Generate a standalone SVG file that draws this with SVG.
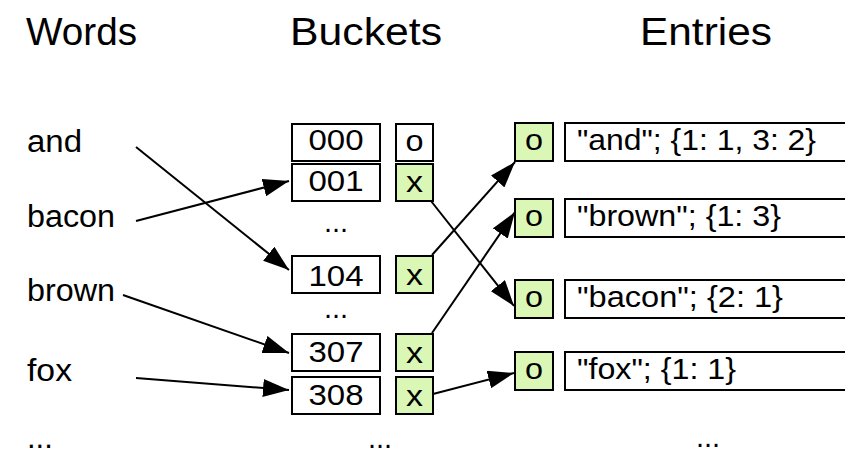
<svg xmlns="http://www.w3.org/2000/svg" width="845" height="454" viewBox="0 0 845 454">
<defs>
<style>
text{font-family:"Liberation Sans",Arial,sans-serif;fill:#000}
.t{font-size:39px}
.w{font-size:31px}
.b{font-size:29px;text-anchor:middle}
.s{font-size:30px;text-anchor:middle}
.e{font-size:29px}
.box{fill:#fff;stroke:#000;stroke-width:2}
.g{fill:#daf7b6;stroke:#000;stroke-width:2}
.c{stroke:#000;stroke-width:2;fill:none;marker-end:url(#ah)}
</style>
<marker id="ah" markerUnits="userSpaceOnUse" markerWidth="26" markerHeight="18" refX="26" refY="9" orient="auto" viewBox="0 0 26 18">
<path d="M0,0 L26,9 L0,18 Z" fill="#000"/>
</marker>
</defs>
<g id="titles">
<text class="t" x="26" y="45" textLength="111" lengthAdjust="spacingAndGlyphs">Words</text>
<text class="t" x="290" y="45" textLength="152" lengthAdjust="spacingAndGlyphs">Buckets</text>
<text class="t" x="640" y="45" textLength="132" lengthAdjust="spacingAndGlyphs">Entries</text>
</g>
<g id="words">
<text class="w" x="27" y="152" textLength="55" lengthAdjust="spacingAndGlyphs">and</text>
<text class="w" x="27" y="227" textLength="88" lengthAdjust="spacingAndGlyphs">bacon</text>
<text class="w" x="27" y="301" textLength="88" lengthAdjust="spacingAndGlyphs">brown</text>
<text class="w" x="27" y="381" textLength="45" lengthAdjust="spacingAndGlyphs">fox</text>
<text class="w" x="27" y="448">...</text>
</g>
<g id="b000"><rect class="box" x="292" y="124" width="88" height="37"/><text class="b" x="336" y="150" textLength="55" lengthAdjust="spacingAndGlyphs">000</text></g>
<g id="s000"><rect class="box" x="396" y="124" width="37" height="37"/><text class="s" x="414.5" y="151" textLength="18" lengthAdjust="spacingAndGlyphs">o</text></g>
<g id="b001"><rect class="box" x="292" y="164" width="88" height="37"/><text class="b" x="336" y="191" textLength="55" lengthAdjust="spacingAndGlyphs">001</text></g>
<g id="s001"><rect class="g" x="396" y="164" width="37" height="37"/><text class="s" x="414.5" y="192" textLength="17" lengthAdjust="spacingAndGlyphs">x</text></g>
<text class="b" x="336" y="232">...</text>
<g id="b104"><rect class="box" x="292" y="256" width="88" height="37"/><text class="b" x="336" y="286" textLength="55" lengthAdjust="spacingAndGlyphs">104</text></g>
<g id="s104"><rect class="g" x="396" y="256" width="37" height="37"/><text class="s" x="414.5" y="285" textLength="17" lengthAdjust="spacingAndGlyphs">x</text></g>
<text class="b" x="336" y="318">...</text>
<g id="b307"><rect class="box" x="292" y="334" width="88" height="37"/><text class="b" x="336" y="362" textLength="55" lengthAdjust="spacingAndGlyphs">307</text></g>
<g id="s307"><rect class="g" x="396" y="334" width="37" height="37"/><text class="s" x="414.5" y="363" textLength="17" lengthAdjust="spacingAndGlyphs">x</text></g>
<g id="b308"><rect class="box" x="292" y="377" width="88" height="37"/><text class="b" x="336" y="405" textLength="55" lengthAdjust="spacingAndGlyphs">308</text></g>
<g id="s308"><rect class="g" x="396" y="377" width="37" height="37"/><text class="s" x="414.5" y="406" textLength="17" lengthAdjust="spacingAndGlyphs">x</text></g>
<text class="b" x="380" y="448">...</text>
<g id="eand"><rect class="g" x="515" y="123" width="38" height="38"/><text class="s" x="534" y="150" textLength="18" lengthAdjust="spacingAndGlyphs">o</text><rect class="box" x="565" y="123" width="300" height="38"/><text class="e" x="577" y="150" textLength="239" lengthAdjust="spacingAndGlyphs">"and"; {1: 1, 3: 2}</text></g>
<g id="ebrown"><rect class="g" x="515" y="199" width="38" height="38"/><text class="s" x="534" y="226" textLength="18" lengthAdjust="spacingAndGlyphs">o</text><rect class="box" x="565" y="199" width="300" height="38"/><text class="e" x="577" y="226" textLength="204" lengthAdjust="spacingAndGlyphs">"brown"; {1: 3}</text></g>
<g id="ebacon"><rect class="g" x="515" y="280" width="38" height="38"/><text class="s" x="534" y="307" textLength="18" lengthAdjust="spacingAndGlyphs">o</text><rect class="box" x="565" y="280" width="300" height="38"/><text class="e" x="577" y="307" textLength="206" lengthAdjust="spacingAndGlyphs">"bacon"; {2: 1}</text></g>
<g id="efox"><rect class="g" x="515" y="352" width="38" height="38"/><text class="s" x="534" y="379" textLength="18" lengthAdjust="spacingAndGlyphs">o</text><rect class="box" x="565" y="352" width="300" height="38"/><text class="e" x="577" y="379" textLength="159" lengthAdjust="spacingAndGlyphs">"fox"; {1: 1}</text></g>
<text class="b" x="708" y="447">...</text>
<g id="connectors">
<line class="c" x1="136" y1="147" x2="289" y2="270"/>
<line class="c" x1="136" y1="221" x2="289" y2="181"/>
<line class="c" x1="123" y1="295" x2="289" y2="353"/>
<line class="c" x1="136" y1="378" x2="289" y2="390"/>
<line class="c" x1="431" y1="201" x2="514" y2="306"/>
<line class="c" x1="432" y1="255" x2="515" y2="162"/>
<line class="c" x1="432" y1="333" x2="515" y2="212"/>
<line class="c" x1="433" y1="394" x2="514" y2="373"/>
</g>
</svg>
